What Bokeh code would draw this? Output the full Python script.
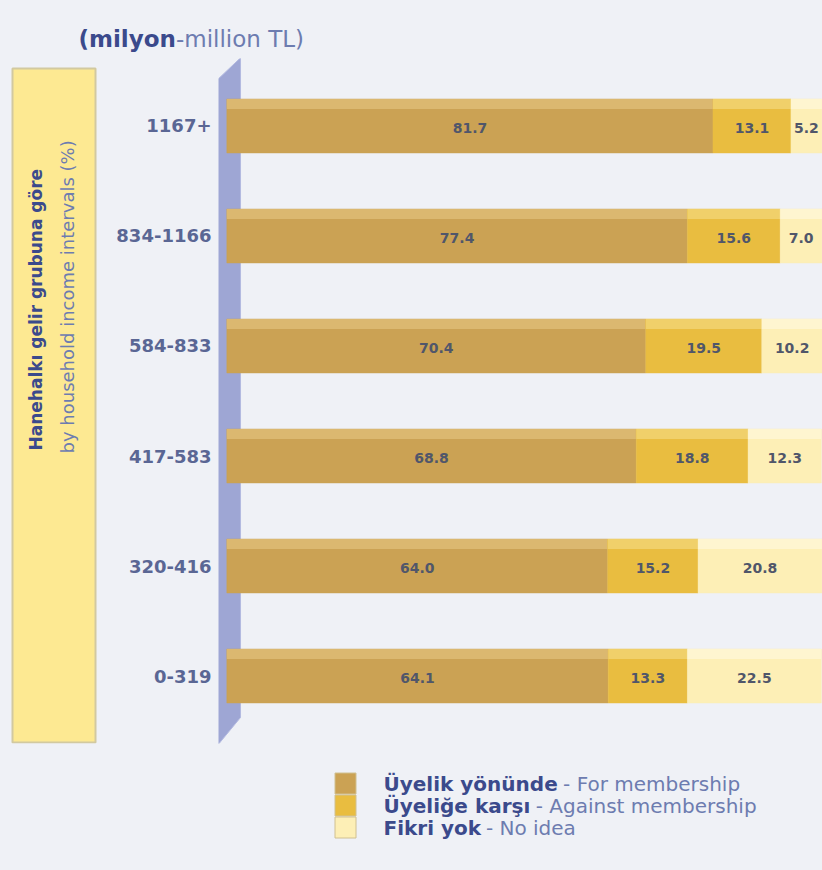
import math
from bokeh.plotting import figure
from bokeh.models import ColumnDataSource, FactorRange, Range1d
from bokeh.layouts import column, row
from bokeh.transform import dodge
from bokeh.core.properties import value
from bokeh.embed import file_html
from bokeh.resources import INLINE

# ---------------- data ----------------
categories = ["1167+", "834-1166", "584-833", "417-583", "320-416", "0-319"]
for_membership = [81.7, 77.4, 70.4, 68.8, 64.0, 64.1]
against_membership = [13.1, 15.6, 19.5, 18.8, 15.2, 13.3]
no_idea = [5.2, 7.0, 10.2, 12.3, 20.8, 22.5]
series_tr = ["Üyelik yönünde", "Üyeliğe karşı", "Fikri yok"]
series_en = ["For membership", "Against membership", "No idea"]
title_bold = "(milyon"
title_rest = "-million TL)"
axis_title_bold = "Hanehalkı gelir grubuna göre"
axis_title_rest = "by household income intervals (%)"

# ---------------- style ----------------
BG = "#eff1f6"
FONT = "DejaVu Sans"
colors = ["#cba254", "#e9bd40", "#fdefb6"]
top_colors = ["#dbb870", "#f0d06a", "#fef5d0"]
DARK = "#3b4a8c"
LIGHT = "#6d7cb0"
VAL = "#50566a"

# approximate DejaVu Sans Bold advance widths (em) used to place the normal-weight text after bold text
BOLD_W = {"Ü": .732, "y": .652, "e": .678, "l": .343, "i": .343, "k": .665, " ": .348,
          "ö": .687, "n": .712, "ü": .712, "d": .716, "ğ": .716, "a": .675, "r": .493,
          "ş": .595, "ı": .343, "F": .575, "o": .687, "(": .457, "m": 1.042}


def bold_width(s, size):
    return sum(BOLD_W.get(c, 0.68) for c in s) * size


series_vals = [for_membership, against_membership, no_idea]
lefts, rights = [], []
cum = [0.0] * len(categories)
for vals in series_vals:
    lefts.append(list(cum))
    cum = [c + v for c, v in zip(cum, vals)]
    rights.append(list(cum))


def blank(width, height, **kw):
    f = figure(width=width, height=height, title=None, x_axis_type=None, y_axis_type=None,
               output_backend="svg", toolbar_location=None,
               background_fill_color=BG, border_fill_color=BG, outline_line_color=None, **kw)
    f.grid.visible = False
    return f


# ---------------- title strip ----------------
t = blank(822, 58, x_range=Range1d(0, 822), y_range=Range1d(0, 58), min_border=0)
t.text(x=[78], y=[20], text=[title_bold], text_font=value(FONT), text_font_style="bold",
       text_font_size="23px", text_color=DARK, text_baseline="middle", text_align="left")
t.text(x=[78 + bold_width(title_bold, 23)], y=[20], text=[title_rest], text_font=value(FONT),
       text_font_size="23px", text_color=LIGHT, text_baseline="middle", text_align="left")

# ---------------- left yellow box (pixel-like coordinates, y measured up from frame bottom) ----------------
lb = blank(100, 692, x_range=Range1d(0, 100), y_range=Range1d(0, 685),
           min_border_left=0, min_border_right=0, min_border_top=0, min_border_bottom=7)
lb.quad(left=[12], right=[95], bottom=[1], top=[675], fill_color="#fde992",
        line_color="#d2c9a0", line_width=2)
lb.text(x=[35], y=[293], text=[axis_title_bold], angle=math.pi / 2,
        text_font=value(FONT), text_font_style="bold", text_font_size="17px",
        text_color=DARK, text_baseline="middle", text_align="left")
lb.text(x=[67], y=[290], text=[axis_title_rest], angle=math.pi / 2,
        text_font=value(FONT), text_font_size="18px",
        text_color=LIGHT, text_baseline="middle", text_align="left")

# ---------------- chart ----------------
src = ColumnDataSource(dict(
    cat=categories,
    l0=lefts[0], r0=rights[0], l1=lefts[1], r1=rights[1], l2=lefts[2], r2=rights[2],
    m0=[(a + b) / 2 for a, b in zip(lefts[0], rights[0])],
    m1=[(a + b) / 2 for a, b in zip(lefts[1], rights[1])],
    m2=[(a + b) / 2 for a, b in zip(lefts[2], rights[2])],
    t0=[f"{v:.1f}" for v in for_membership],
    t1=[f"{v:.1f}" for v in against_membership],
    t2=[f"{v:.1f}" for v in no_idea],
))

yr = FactorRange(*list(reversed(categories)), range_padding=0.1136, range_padding_units="absolute")
p = figure(width=722, height=692, title=None, y_range=yr, x_range=Range1d(-1.4, 100.1),
           output_backend="svg", toolbar_location=None,
           min_border_left=118, min_border_right=0, min_border_top=0, min_border_bottom=7,
           background_fill_color=BG, border_fill_color=BG, outline_line_color=None)
p.grid.visible = False
p.xaxis.visible = False

# slanted axis wall (decoration, behind the bars)
p.patch(x=[-1.4, 2.3, 2.3, -1.4], y=[-0.12, 0.123, 6.12, 5.93], fill_color="#9ea6d4",
        line_color="#b3bae0", line_width=1, level="underlay")

for i in range(3):
    p.hbar(y="cat", left=f"l{i}", right=f"r{i}", height=0.49, source=src,
           fill_color=colors[i], line_color=colors[i], line_width=0.5)
    p.hbar(y=dodge("cat", 0.2, range=p.y_range), left=f"l{i}", right=f"r{i}", height=0.09,
           source=src, fill_color=top_colors[i], line_color=None)
    p.text(x=f"m{i}", y=dodge("cat", -0.02, range=p.y_range), text=f"t{i}", source=src,
           text_font=value(FONT), text_font_style="bold", text_font_size="14px",
           text_color=VAL, text_align="center", text_baseline="middle")

ya = p.yaxis[0]
ya.axis_line_color = None
ya.major_tick_line_color = None
ya.minor_tick_line_color = None
ya.major_label_standoff = 1
ya.major_label_text_font = FONT
ya.major_label_text_font_style = "bold"
ya.major_label_text_font_size = "18px"
ya.major_label_text_color = "#5a6694"

# ---------------- legend strip ----------------
lg = blank(822, 120, x_range=Range1d(0, 822), y_range=Range1d(0, 120), min_border=0)
row_y = [87, 65, 43]
LS = 20
for i in range(3):
    lg.scatter(x=[345], y=[row_y[i]], marker="square", size=21, fill_color=colors[i],
               line_color="#d0c090", line_width=1)
    lg.text(x=[383], y=[row_y[i]], text=[series_tr[i]], text_font=value(FONT),
            text_font_style="bold", text_font_size=f"{LS}px", text_color=DARK,
            text_baseline="middle", text_align="left")
    lg.text(x=[383 + bold_width(series_tr[i], LS) + 7], y=[row_y[i]], text=["- " + series_en[i]],
            text_font=value(FONT), text_font_size=f"{LS}px",
            text_color=LIGHT, text_baseline="middle", text_align="left")

layout = column(t, row(lb, p, spacing=0), lg, spacing=0, styles={"background-color": BG})

open("out.html", "w").write(file_html(layout, INLINE))
